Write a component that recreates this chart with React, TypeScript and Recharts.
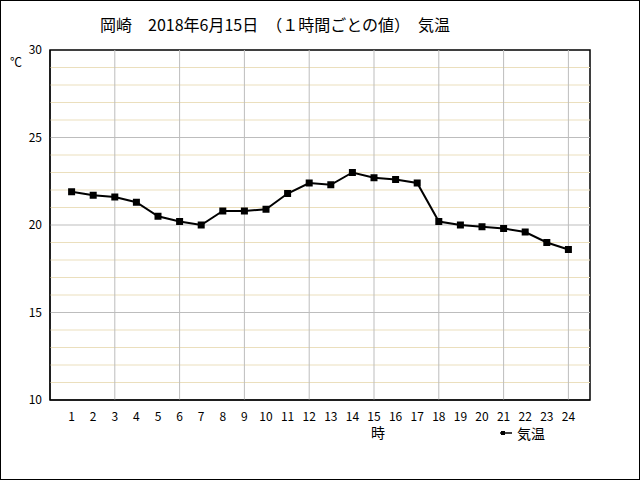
import {
  Line,
  LineChart,
  ReferenceArea,
  ReferenceLine,
  XAxis,
  YAxis,
} from "recharts";

const hours = [1, 2, 3, 4, 5, 6, 7, 8, 9, 10, 11, 12, 13, 14, 15, 16, 17, 18, 19, 20, 21, 22, 23, 24];
const temps = [
  21.9, 21.7, 21.6, 21.3, 20.5, 20.2, 20.0, 20.8, 20.8, 20.9, 21.8, 22.4,
  22.3, 23.0, 22.7, 22.6, 22.4, 20.2, 20.0, 19.9, 19.8, 19.6, 19.0, 18.6,
];
const yTicks = [10, 15, 20, 25, 30];
const minorY = [11, 12, 13, 14, 16, 17, 18, 19, 21, 22, 23, 24, 26, 27, 28, 29];
const majorY = [15, 20, 25];
const majorX = [3, 6, 9, 12, 15, 18, 21, 24];

const data = hours.map((h, i) => ({ hour: h, temp: temps[i] }));

const font = "'Noto Sans CJK JP', sans-serif";

function SquareDot(props: any) {
  const { cx, cy } = props;
  if (cx == null || cy == null) return null;
  return <rect x={cx - 3.5} y={cy - 3.5} width={7} height={7} fill="#000" />;
}

export default function App() {
  return (
    <div style={{ position: "relative", width: 640, height: 480, background: "#fff" }}>
      <style>{`body{margin:0}`}</style>
      <LineChart
        width={640}
        height={480}
        data={data}
        margin={{ top: 50, right: 50, bottom: 50, left: 0 }}
      >
        <XAxis
          dataKey="hour"
          type="number"
          domain={[0, 25]}
          ticks={hours}
          interval={0}
          height={30}
          tickLine={false}
          tickMargin={6}
          axisLine={{ stroke: "#000" }}
          tick={{ fill: "#000", fontSize: 12, fontFamily: font }}
        />
        <YAxis
          domain={[10, 30]}
          ticks={yTicks}
          width={50}
          tickLine={false}
          axisLine={{ stroke: "#000" }}
          tick={{ fill: "#000", fontSize: 12, fontFamily: font }}
        />
        {minorY.map((v) => (
          <ReferenceLine key={`m${v}`} y={v} stroke="#ebdfbd" strokeWidth={1} />
        ))}
        {majorY.map((v) => (
          <ReferenceLine key={`y${v}`} y={v} stroke="#bdbdbd" strokeWidth={1} />
        ))}
        {majorX.map((v) => (
          <ReferenceLine key={`x${v}`} x={v} stroke="#bdbdbd" strokeWidth={1} />
        ))}
        <ReferenceArea x1={0} x2={25} y1={10} y2={30} fill="none" stroke="#000" strokeWidth={1.5} />
        <Line
          dataKey="temp"
          stroke="#000"
          strokeWidth={2}
          dot={<SquareDot />}
          isAnimationActive={false}
        />
      </LineChart>
      <div style={{ position: "absolute", left: 100, top: 12, fontFamily: font, fontSize: 16, whiteSpace: "pre" }}>
        {"岡崎　2018年6月15日　（１時間ごとの値）　気温"}
      </div>
      <div style={{ position: "absolute", left: 10, top: 53, fontFamily: font, fontSize: 12 }}>℃</div>
      <div style={{ position: "absolute", left: 371, top: 422, fontFamily: font, fontSize: 14 }}>時</div>
      <div
        style={{
          position: "absolute",
          left: 499,
          top: 423,
          display: "flex",
          alignItems: "center",
          fontFamily: font,
          fontSize: 14,
        }}
      >
        <svg width={14} height={8}>
          <line x1={1} y1={4} x2={13} y2={4} stroke="#000" strokeWidth={1.5} />
          <rect x={2} y={2} width={4} height={4} fill="#000" />
        </svg>
        <span style={{ marginLeft: 4 }}>気温</span>
      </div>
      <div
        style={{
          position: "absolute",
          inset: 0,
          border: "1px solid #000",
          boxSizing: "border-box",
          pointerEvents: "none",
        }}
      />
    </div>
  );
}
